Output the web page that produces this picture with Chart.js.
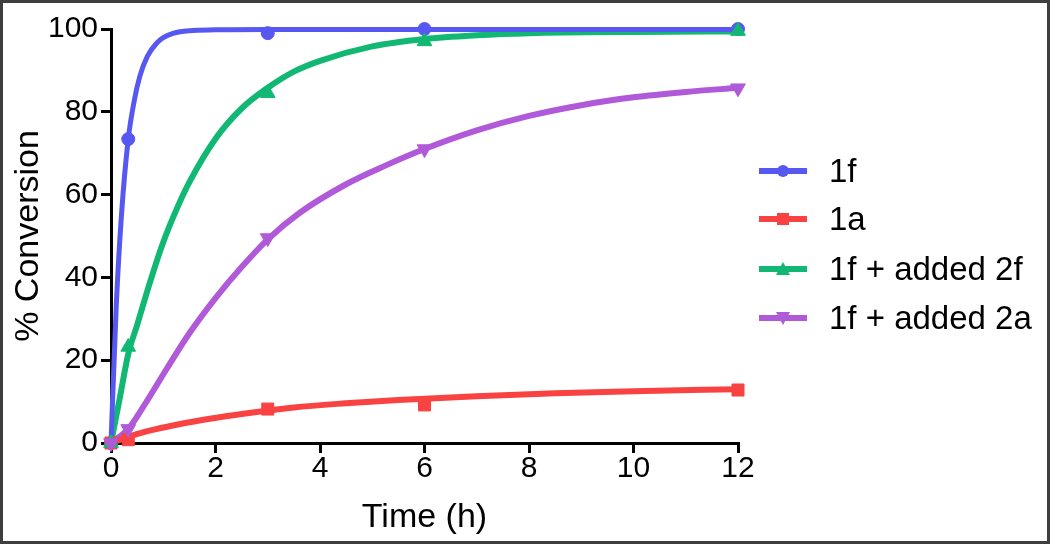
<!DOCTYPE html>
<html><head><meta charset="utf-8">
<script src="https://cdn.jsdelivr.net/npm/chart.js@4/dist/chart.umd.min.js"></script>
<style>
html,body{margin:0;padding:0;background:#fff;}
#wrap{position:relative;width:1050px;height:544px;overflow:hidden;background:#fff;}
#c{position:absolute;left:0;top:0;}
#frame{position:absolute;left:0;top:0;width:1050px;height:544px;box-sizing:border-box;border:3px solid #3e3e3e;pointer-events:none;}
#legend{position:absolute;left:0;top:0;font-family:"Liberation Sans",Arial,Helvetica,sans-serif;font-size:33px;color:#000;}
.row{position:absolute;left:759px;height:40px;display:flex;align-items:center;white-space:nowrap;}
.row svg{display:block;margin-right:22px;}
</style>
</head><body>
<div id="wrap">
<canvas id="c" width="1050" height="544"></canvas>
<div id="legend"></div>
<div id="frame"></div>
</div>
<script>
// ---- data ----
const timePoints = [0, 0.33, 3, 6, 12];
const conv1f   = [0, 73.4, 99.0, 100.0, 100.0];
const conv1a   = [0, 0.8, 8.2, 9.2, 12.8];
const conv1f2f = [0, 23.2, 84.5, 97.0, 99.5];
const conv1f2a = [0, 3.4, 49.5, 71.0, 85.7];

// fitted curves
const fitT1f = [0, 0.1, 0.2, 0.33, 0.45, 0.55, 0.7, 0.875, 1.0, 1.2, 1.5, 2, 3, 6, 12];
const fit1f  = [0, 33, 55, 73.4, 83, 88.5, 93.5, 96.6, 97.9, 99.0, 99.6, 99.8, 99.9, 99.9, 99.9];
const fitT1a = [0, 0.56, 1.5, 2.5, 3.5, 4.5, 5.5, 7, 8.5, 10, 12];
const fit1a  = [0, 2.4, 5.0, 7.0, 8.6, 9.6, 10.4, 11.3, 12.0, 12.5, 13.0];
const fitT1f2f = [0, 0.17, 0.33, 0.5, 0.75, 1, 1.25, 1.5, 2, 2.5, 3, 3.5, 4, 5, 6, 7, 8, 10, 12];
const fit1f2f  = [0, 11, 21.5, 28.5, 39, 48.5, 56.3, 63, 73.5, 80.8, 85.8, 89.7, 92.3, 95.8, 97.6, 98.5, 99.0, 99.3, 99.4];
const fitT1f2a = [0, 0.33, 0.62, 1.07, 1.5, 2, 2.5, 3, 3.6, 4.5, 5.25, 6, 7, 8, 9, 10, 11, 12];
const fit1f2a  = [0, 3.4, 8.8, 18, 26.5, 35, 42.5, 49.2, 55.5, 62.5, 67, 71, 75.5, 79, 81.6, 83.5, 84.8, 85.8];

const xTicks = [0, 2, 4, 6, 8, 10, 12];
const yTicks = [0, 20, 40, 60, 80, 100];
const seriesNames = ['1f', '1a', '1f + added 2f', '1f + added 2a'];
const colors = ['#5757f2', '#f94343', '#10b874', '#b15ad9'];

const pts = (xs, ys) => xs.map((x, i) => ({x, y: ys[i]}));
const FONT = '"Liberation Sans", Arial, Helvetica, sans-serif';

const markerDefs = [
  {data: conv1f, style: 'circle', r: 6.5, rot: 0},
  {data: conv1a, style: 'rect', r: 8.5, rot: 0},
  {data: conv1f2f, style: 'triangle', r: 8.5, rot: 0},
  {data: conv1f2a, style: 'triangle', r: 8.5, rot: 180},
];
const fitDefs = [[fitT1f, fit1f], [fitT1a, fit1a], [fitT1f2f, fit1f2f], [fitT1f2a, fit1f2a]];

const datasets = [];
fitDefs.forEach((f, i) => {
  datasets.push({
    label: seriesNames[i] + ' fit', data: pts(f[0], f[1]), showLine: true,
    borderColor: colors[i], backgroundColor: colors[i], borderWidth: i === 0 ? 5 : 6,
    pointRadius: 0, cubicInterpolationMode: 'monotone', clip: false, order: 10 + i
  });
});
markerDefs.forEach((m, i) => {
  datasets.push({
    label: seriesNames[i], data: pts(timePoints, m.data), showLine: false,
    pointStyle: m.style, pointRadius: m.r, pointRotation: m.rot,
    pointBackgroundColor: colors[i], pointBorderColor: colors[i], pointBorderWidth: 1,
    backgroundColor: colors[i], borderColor: colors[i], clip: false, order: 4 - i
  });
});

new Chart(document.getElementById('c'), {
  type: 'scatter',
  data: {datasets},
  options: {
    responsive: false, animation: false, devicePixelRatio: 1,
    layout: {padding: {left: 0, top: 29, right: 312, bottom: 0}},
    plugins: {legend: {display: false}, tooltip: {enabled: false}},
    scales: {
      x: {
        type: 'linear', min: 0, max: 12,
        afterBuildTicks: s => { s.ticks = xTicks.map(v => ({value: v})); },
        afterFit: s => { s.height = 101; },
        ticks: {color: '#000', font: {family: FONT, size: 30, lineHeight: 1}, padding: 1, maxRotation: 0},
        grid: {display: true, drawOnChartArea: false, drawTicks: true, tickLength: 10, color: '#000', lineWidth: 3},
        border: {display: true, color: '#000', width: 3},
        title: {display: true, text: 'Time (h)', color: '#000', font: {family: FONT, size: 34}, padding: {top: 0, bottom: 6}}
      },
      y: {
        type: 'linear', min: 0, max: 100,
        afterBuildTicks: s => { s.ticks = yTicks.map(v => ({value: v})); },
        afterFit: s => { s.width = 111; },
        ticks: {color: '#000', font: {family: FONT, size: 30}, padding: 3},
        grid: {display: true, drawOnChartArea: false, drawTicks: true, tickLength: 10, color: '#000', lineWidth: 3},
        border: {display: true, color: '#000', width: 3},
        title: {display: true, text: '% Conversion', color: '#000', font: {family: FONT, size: 34}, padding: {top: 8, bottom: 0}}
      }
    }
  }
});

// HTML legend
const legendY = [171, 219, 269, 318];
const lg = document.getElementById('legend');
function markerSvg(i) {
  const c = colors[i];
  let shape = '';
  if (i === 0) shape = `<circle cx="24" cy="12" r="6" fill="${c}"/>`;
  else if (i === 1) shape = `<rect x="18" y="6" width="12" height="12" fill="${c}"/>`;
  else if (i === 2) shape = `<polygon points="24,5 17,18 31,18" fill="${c}"/>`;
  else shape = `<polygon points="24,19 17,6 31,6" fill="${c}"/>`;
  return `<svg width="48" height="24" viewBox="0 0 48 24"><line x1="0" y1="12" x2="48" y2="12" stroke="${c}" stroke-width="6"/>${shape}</svg>`;
}
seriesNames.forEach((n, i) => {
  const d = document.createElement('div');
  d.className = 'row';
  d.style.top = (legendY[i] - 20) + 'px';
  d.innerHTML = markerSvg(i) + '<span>' + n + '</span>';
  lg.appendChild(d);
});
</script>
</body></html>
